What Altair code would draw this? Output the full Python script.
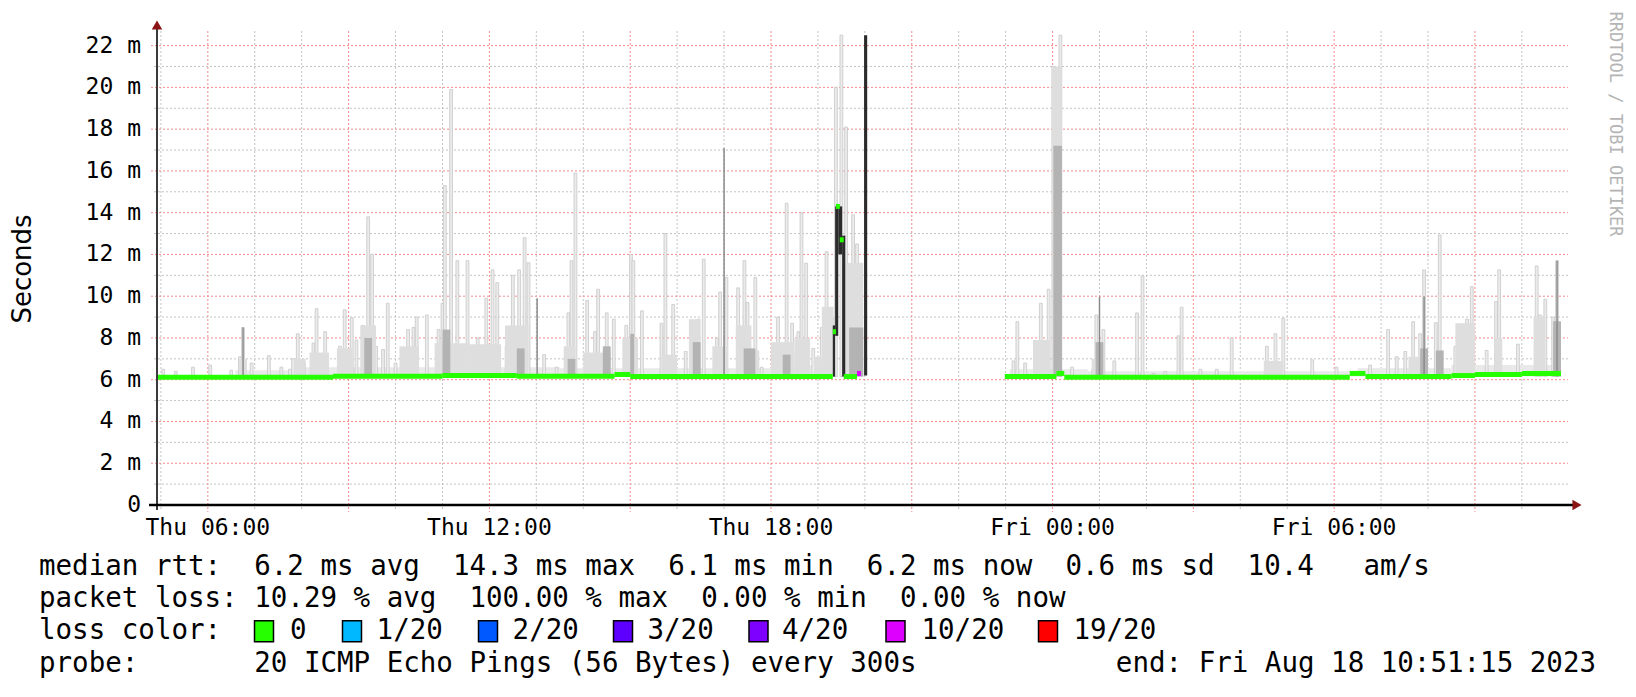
import altair as alt
import pandas as pd

# ---------------- data ----------------
DAY = {"Thu": 0, "Fri": 24}


def hrs(s):
    d, hm = s.split()
    h, m = hm.split(":")
    return DAY[d] + int(h) + int(m) / 60.0


X_DOMAIN = ["Thu 04:55", "Fri 10:59"]
Y_MAX = 22.7  # ms

# thin light smoke spikes (time, top in ms)
spike_time = [
    "Thu 05:03", "Thu 05:19", "Thu 05:41", "Thu 06:03", "Thu 06:30", "Thu 06:41", "Thu 06:45", "Thu 06:56",
    "Thu 07:18", "Thu 07:34", "Thu 07:45", "Thu 07:49", "Thu 07:55", "Thu 08:03", "Thu 08:15", "Thu 08:19",
    "Thu 08:30", "Thu 08:49", "Thu 08:55", "Thu 09:04", "Thu 09:10", "Thu 09:18", "Thu 09:25", "Thu 09:30",
    "Thu 09:35", "Thu 09:44", "Thu 09:50", "Thu 10:00", "Thu 10:09", "Thu 10:16", "Thu 10:23", "Thu 10:27",
    "Thu 10:40", "Thu 10:55", "Thu 11:00", "Thu 11:03", "Thu 11:11", "Thu 11:19", "Thu 11:32", "Thu 11:45",
    "Thu 11:56", "Thu 12:04", "Thu 12:10", "Thu 12:22", "Thu 12:30", "Thu 12:38", "Thu 12:45", "Thu 12:50",
    "Thu 13:10", "Thu 13:26", "Thu 13:41", "Thu 13:45", "Thu 13:50", "Thu 14:05", "Thu 14:15", "Thu 14:19",
    "Thu 14:30", "Thu 14:39", "Thu 14:55", "Thu 15:01", "Thu 15:04", "Thu 15:15", "Thu 15:40", "Thu 15:45",
    "Thu 15:55", "Thu 16:11", "Thu 16:20", "Thu 16:27", "Thu 16:34", "Thu 16:51", "Thu 16:55", "Thu 17:03",
    "Thu 17:18", "Thu 17:26", "Thu 17:30", "Thu 17:40", "Thu 17:48", "Thu 18:09", "Thu 18:20", "Thu 18:27",
    "Thu 18:35", "Thu 18:39", "Thu 18:45", "Thu 18:54", "Thu 19:05", "Thu 19:11", "Thu 19:18", "Thu 19:23",
    "Thu 19:30", "Thu 19:36", "Thu 19:45", "Thu 19:50",
    "Thu 23:10", "Thu 23:15", "Thu 23:25", "Thu 23:45", "Thu 23:55", "Fri 00:01", "Fri 00:10", "Fri 00:25",
    "Fri 00:52", "Fri 00:56", "Fri 01:05", "Fri 01:19", "Fri 01:48", "Fri 01:55", "Fri 02:09", "Fri 02:24",
    "Fri 02:41", "Fri 02:45", "Fri 03:09", "Fri 03:30", "Fri 03:49", "Fri 04:34", "Fri 04:45", "Fri 04:55",
    "Fri 05:32", "Fri 06:03", "Fri 06:46", "Fri 07:09", "Fri 07:20", "Fri 07:31", "Fri 07:41", "Fri 07:50",
    "Fri 07:55", "Fri 08:10", "Fri 08:15", "Fri 08:35", "Fri 08:41", "Fri 08:50", "Fri 08:56", "Fri 09:15",
    "Fri 09:27", "Fri 09:31", "Fri 09:55", "Fri 10:19", "Fri 10:23", "Fri 10:30", "Fri 10:40", "Fri 10:45",
]
spike_top = [
    6.5, 6.4, 6.6, 6.7, 6.45, 7.1, 8.5, 6.8,
    7.15, 6.6, 6.5, 7.0, 8.2, 6.8, 7.75, 9.4,
    8.3, 7.6, 9.35, 8.97, 7.9, 8.6, 13.8, 12.0,
    7.6, 7.45, 9.66, 6.8, 7.45, 8.4, 8.5, 9.0,
    9.1, 8.4, 9.66, 15.3, 19.9, 11.7, 11.7, 8.0,
    9.9, 11.26, 10.65, 7.6, 11.0, 11.26, 12.8, 11.6,
    7.2, 6.6, 9.2, 11.7, 15.9, 9.8, 8.3, 10.33,
    9.2, 8.9, 8.6, 12.0, 11.7, 9.3, 8.7, 13.0,
    9.6, 7.35, 8.7, 8.9, 11.77, 8.0, 10.2, 10.9,
    10.4, 11.7, 9.7, 10.9, 6.6, 9.0, 14.45, 8.7,
    8.3, 14.0, 11.58, 7.5, 8.5, 12.13, 9.0, 20.0,
    22.5, 18.1, 13.9, 12.5,
    6.9, 8.78, 6.8, 9.66, 10.33, 21.0, 22.5, 6.6,
    6.5, 9.1, 8.4, 6.9, 9.2, 10.97, 6.3, 6.4,
    8.1, 9.47, 6.5, 6.5, 8.0, 7.6, 8.2, 8.94,
    6.95, 6.6, 6.7, 8.4, 7.1, 7.35, 8.78, 8.2,
    11.26, 8.73, 12.93, 7.6, 8.2, 8.9, 10.46, 7.4,
    9.74, 11.26, 7.7, 11.45, 9.1, 9.85, 9.0, 11.7,
]

# low smoke haze just above the median (start, end, top)
haze_start = ["Thu 06:35", "Thu 08:00", "Thu 13:30", "Thu 18:00", "Thu 23:05", "Fri 00:45", "Fri 06:30", "Fri 08:30"]
haze_end = ["Thu 07:50", "Thu 13:30", "Thu 18:00", "Thu 19:19", "Fri 00:45", "Fri 06:30", "Fri 08:30", "Fri 10:50"]
haze_top = [6.45, 6.6, 6.55, 6.7, 6.5, 6.4, 6.55, 6.7]

# broader light-grey smoke masses (start, end, top)
mass_start = [
    "Thu 06:40", "Thu 07:50", "Thu 08:10", "Thu 08:45", "Thu 09:15", "Thu 10:05", "Thu 10:50", "Thu 11:35",
    "Thu 12:20", "Thu 13:35", "Thu 14:00", "Thu 14:50", "Thu 15:40", "Thu 16:15", "Thu 16:45", "Thu 17:15",
    "Thu 17:35", "Thu 18:00", "Thu 18:30", "Thu 18:55", "Thu 19:05", "Thu 19:36", "Thu 23:35", "Fri 00:00",
    "Fri 00:50", "Fri 04:30", "Fri 07:35", "Fri 08:35", "Fri 09:25", "Fri 10:15", "Fri 10:40",
]
mass_end = [
    "Thu 06:50", "Thu 08:05", "Thu 08:35", "Thu 09:05", "Thu 09:35", "Thu 10:30", "Thu 11:35", "Thu 12:15",
    "Thu 12:50", "Thu 13:50", "Thu 14:35", "Thu 15:10", "Thu 16:00", "Thu 16:30", "Thu 17:05", "Thu 17:35",
    "Thu 17:45", "Thu 18:30", "Thu 18:50", "Thu 19:05", "Thu 19:20", "Thu 19:58", "Thu 23:57", "Fri 00:12",
    "Fri 01:05", "Fri 04:55", "Fri 07:55", "Fri 09:00", "Fri 09:35", "Fri 10:30", "Fri 10:50",
]
mass_top = [
    7.0, 7.0, 7.3, 7.5, 8.6, 7.6, 7.75, 7.7,
    8.6, 7.6, 7.3, 8.0, 7.2, 8.9, 7.6, 8.6,
    7.4, 7.8, 8.0, 7.1, 9.5, 11.6, 7.9, 21.0,
    7.0, 6.9, 7.1, 8.7, 8.0, 9.0, 8.5,
]

# darker smoke cores (start, end, top)
core_start = [
    "Thu 09:20", "Thu 11:00", "Thu 12:35", "Thu 13:40", "Thu 14:25", "Thu 15:00", "Thu 16:20", "Thu 17:25",
    "Thu 18:15", "Thu 19:40", "Fri 00:01", "Fri 00:55", "Fri 07:50", "Fri 08:10", "Fri 10:40",
]
core_end = [
    "Thu 09:30", "Thu 11:10", "Thu 12:45", "Thu 13:50", "Thu 14:35", "Thu 15:05", "Thu 16:30", "Thu 17:40",
    "Thu 18:25", "Thu 19:58", "Fri 00:12", "Fri 01:05", "Fri 08:00", "Fri 08:20", "Fri 10:50",
]
core_top = [8.0, 8.4, 7.5, 7.0, 7.6, 8.2, 7.8, 7.5, 7.2, 8.5, 17.2, 7.8, 7.5, 7.4, 8.8]

# thin dark streaks (time, top)
streak_time = ["Thu 06:45", "Thu 13:01", "Thu 17:00", "Fri 01:00", "Fri 07:55", "Fri 10:45"]
streak_top = [8.5, 9.9, 17.1, 9.98, 10.0, 11.7]

# near-black smoke around the outage (start, end, low, high)
black_start = ["Thu 19:19", "Thu 19:22", "Thu 19:26", "Thu 19:31", "Thu 19:59"]
black_end = ["Thu 19:22", "Thu 19:26", "Thu 19:31", "Thu 19:35", "Thu 20:03"]
black_low = [6.15, 8.1, 12.0, 6.15, 6.2]
black_high = [8.6, 14.3, 14.3, 12.9, 22.5]

# median rtt segments (start, end, ms, loss)
med_start = [
    "Thu 04:55", "Thu 08:40", "Thu 11:00", "Thu 12:35", "Thu 14:40", "Thu 15:00", "Thu 19:19", "Thu 19:23",
    "Thu 19:28", "Thu 19:33", "Thu 19:50",
    "Thu 22:59", "Fri 00:05", "Fri 00:15", "Fri 06:20", "Fri 06:40", "Fri 08:30", "Fri 09:00", "Fri 10:00",
]
med_end = [
    "Thu 08:40", "Thu 11:00", "Thu 12:35", "Thu 14:40", "Thu 15:00", "Thu 19:19", "Thu 19:23", "Thu 19:28",
    "Thu 19:33", "Thu 19:50", "Thu 19:55",
    "Fri 00:05", "Fri 00:15", "Fri 06:20", "Fri 06:40", "Fri 08:30", "Fri 09:00", "Fri 10:00", "Fri 10:50",
]
med_value = [
    6.12, 6.17, 6.2, 6.17, 6.25, 6.15, 8.3, 14.3,
    12.7, 6.15, 6.3,
    6.15, 6.3, 6.12, 6.3, 6.15, 6.2, 6.25, 6.3,
]
med_loss = ["0"] * 10 + ["10/20"] + ["0"] * 8

loss_labels = ["0", "1/20", "2/20", "3/20", "4/20", "10/20", "19/20"]
loss_colors = ["#26ff00", "#00b8ff", "#0059ff", "#5e00ff", "#7e00ff", "#dd00ff", "#ff0000"]

y_label_values = [0, 2, 4, 6, 8, 10, 12, 14, 16, 18, 20, 22]
x_label_times = ["Thu 06:00", "Thu 12:00", "Thu 18:00", "Fri 00:00", "Fri 06:00"]
grid_hours = list(range(5, 35))
grid_ms = list(range(1, 23))

stats_line1 = "median rtt:  6.2 ms avg  14.3 ms max  6.1 ms min  6.2 ms now  0.6 ms sd  10.4   am/s"
stats_line2 = "packet loss: 10.29 % avg  100.00 % max  0.00 % min  0.00 % now"
probe_line = "probe:       20 ICMP Echo Pings (56 Bytes) every 300s"
end_line = "end: Fri Aug 18 10:51:15 2023"

# ---------------- chart ----------------
W, H = 1411, 474
MONO = "DejaVu Sans Mono"
NB = "\u00a0"

xs = alt.Scale(domain=[hrs(X_DOMAIN[0]), hrs(X_DOMAIN[1])], nice=False, zero=False)
ys = alt.Scale(domain=[0, Y_MAX], nice=False, zero=True)
X = lambda f: alt.X(f, type="quantitative", scale=xs, axis=None)
Y = lambda f: alt.Y(f, type="quantitative", scale=ys, axis=None)

one = pd.DataFrame({"k": [0]})

vg = pd.DataFrame({"t": grid_hours, "major": [h % 3 == 0 for h in grid_hours]})
hg = pd.DataFrame({"v": grid_ms, "major": [v % 2 == 0 for v in grid_ms]})

v_minor = alt.Chart(vg[~vg.major]).mark_rule(color="#c4c4c4", strokeDash=[2, 2], strokeWidth=1).encode(
    x=X("t"), y=alt.value(0), y2=alt.value(H + 4))
h_minor = alt.Chart(hg[~hg.major]).mark_rule(color="#c4c4c4", strokeDash=[2, 2], strokeWidth=1).encode(
    y=Y("v"), x=alt.value(-3), x2=alt.value(W))
v_major = alt.Chart(vg[vg.major]).mark_rule(color="#f28c8c", strokeDash=[2, 2], strokeWidth=1).encode(
    x=X("t"), y=alt.value(0), y2=alt.value(H + 7))
h_major = alt.Chart(hg[hg.major]).mark_rule(color="#f28c8c", strokeDash=[2, 2], strokeWidth=1).encode(
    y=Y("v"), x=alt.value(-6), x2=alt.value(W))


def band_layer(starts, ends, tops, color):
    df = pd.DataFrame({"s": [hrs(s) for s in starts], "e": [hrs(s) for s in ends], "top": tops})
    return alt.Chart(df).transform_calculate(base="6.15").mark_rect(color=color).encode(
        x=X("s"), x2="e:Q", y=Y("base"), y2="top:Q")


haze = band_layer(haze_start, haze_end, haze_top, "#e9e9e9")

spk = pd.DataFrame({"t": [hrs(s) for s in spike_time], "top": spike_top})
spikes = alt.Chart(spk).transform_calculate(
    t0="datum.t - 0.03", t1="datum.t + 0.03", base="6.15"
).mark_rect(color="#ebebeb", stroke="#c8c8c8", strokeWidth=0.8).encode(
    x=X("t0"), x2="t1:Q", y=Y("base"), y2="top:Q")

masses = band_layer(mass_start, mass_end, mass_top, "#dedede")
cores = band_layer(core_start, core_end, core_top, "#b3b3b3")

stk = pd.DataFrame({"t": [hrs(s) for s in streak_time], "top": streak_top})
streaks = alt.Chart(stk).transform_calculate(base="6.15").mark_rule(color="#8a8a8a", strokeWidth=1.5).encode(
    x=X("t"), y=Y("base"), y2="top:Q")

blk = pd.DataFrame({"s": [hrs(s) for s in black_start], "e": [hrs(s) for s in black_end],
                    "lo": black_low, "hi": black_high})
blacks = alt.Chart(blk).mark_rect(color="#2b2b2b").encode(x=X("s"), x2="e:Q", y=Y("lo"), y2="hi:Q")

med = pd.DataFrame({"s": [hrs(s) for s in med_start], "e": [hrs(s) for s in med_end],
                    "v": med_value, "loss": med_loss})
median = alt.Chart(med).mark_rule(strokeWidth=5, strokeCap="butt").encode(
    x=X("s"), x2="e:Q", y=Y("v"),
    color=alt.Color("loss:N", scale=alt.Scale(domain=loss_labels, range=loss_colors), legend=None))

y_axis = alt.Chart(one).mark_rule(color="#3a3a3a", strokeWidth=2).encode(
    x=alt.value(0), y=alt.value(-4), y2=alt.value(H + 5))
x_axis = alt.Chart(one).mark_rule(color="#000000", strokeWidth=2.5).encode(
    x=alt.value(-8), x2=alt.value(W + 6), y=alt.value(H))
arrow_r = alt.Chart(one).mark_point(shape="triangle-right", filled=True, color="#8b1414", size=110, opacity=1).encode(
    x=alt.value(W + 9), y=alt.value(H))
arrow_u = alt.Chart(one).mark_point(shape="triangle-up", filled=True, color="#8b1414", size=110, opacity=1).encode(
    x=alt.value(0), y=alt.value(-6))

ylab = pd.DataFrame({"v": y_label_values,
                     "txt": [("0" + NB + NB) if v == 0 else f"{v}{NB}m" for v in y_label_values]})
y_labels = alt.Chart(ylab).mark_text(font=MONO, fontSize=23, align="right", baseline="middle", color="#000").encode(
    y=Y("v"), x=alt.value(-16), text="txt:N")

xlab = pd.DataFrame({"t": [hrs(s) for s in x_label_times], "txt": [s.replace(" ", NB) for s in x_label_times]})
x_labels = alt.Chart(xlab).mark_text(font=MONO, fontSize=23, align="center", baseline="middle", color="#000").encode(
    x=X("t"), y=alt.value(H + 23), text="txt:N")


def label(txt, x, y, size=27.5, align="left", font=MONO, color="#000000", angle=0):
    kw = dict(font=font, fontSize=size, align=align, baseline="middle", color=color)
    if angle:
        kw["angle"] = angle
    return alt.Chart(one).mark_text(**kw).encode(
        x=alt.value(x), y=alt.value(y), text=alt.value(txt.replace(" ", NB)))


LX = -118
rows = [535.6, 567.9, 600.3, 632.6]
texts = [
    label("Seconds", -134, 238, size=26, font="DejaVu Sans", align="center", angle=270),
    label("RRDTOOL / TOBI OETIKER", 1458, 93, size=17, color="#b4b4b4", align="center", angle=90),
    label(stats_line1, LX, rows[0]),
    label(stats_line2, LX, rows[1]),
    label("loss color:", LX, rows[2]),
    label(probe_line, LX, rows[3]),
    label(end_line, 1439, rows[3], align="right"),
]

sq_x = [107, 195, 331, 466, 601.5, 738.5, 891]
txt_x = [133, 219.6, 355.6, 490.5, 625, 764.5, 916.4]
for i, (lab, col) in enumerate(zip(loss_labels, loss_colors)):
    texts.append(alt.Chart(one).mark_rect(color=col, stroke="#000000", strokeWidth=1.5).encode(
        x=alt.value(sq_x[i] - 9.5), x2=alt.value(sq_x[i] + 9.5),
        y=alt.value(rows[2] - 10.5), y2=alt.value(rows[2] + 10.5)))
    texts.append(label(lab, txt_x[i], rows[2]))

chart = alt.layer(
    v_minor, h_minor, v_major, h_major,
    haze, spikes, masses, cores, streaks, blacks, median,
    y_axis, x_axis, arrow_r, arrow_u, y_labels, x_labels, *texts
).properties(
    width=W, height=H,
    autosize=alt.AutoSizeParams(type="none"),
    padding={"left": 149, "top": 23, "right": 60, "bottom": 184},
).configure_view(stroke=None)

chart.save("out.html", embed_options={"renderer": "svg", "actions": False})
